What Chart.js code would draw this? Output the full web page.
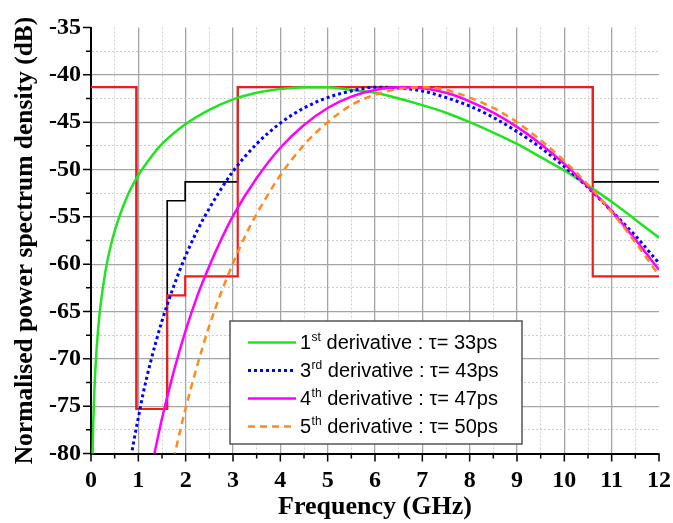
<!DOCTYPE html>
<html>
<head>
<meta charset="utf-8">
<script src="https://cdn.jsdelivr.net/npm/chart.js@4/dist/chart.umd.min.js"></script>
<style>
  html, body { margin: 0; padding: 0; background: #fff; }
  canvas { display: block; }
</style>
</head>
<body>
<canvas id="psd" width="673" height="523"></canvas>
<script>
// PSD of Gaussian derivative pulses (dB) against frequency (GHz)
const freq1st = [0.03, 0.04, 0.05, 0.07, 0.1, 0.15, 0.2, 0.3, 0.4, 0.5, 0.75, 1, 1.25, 1.5, 2, 2.5, 3, 3.5, 4, 4.5, 5, 5.5, 6, 6.5, 7, 7.5, 8, 8.5, 9, 9.5, 10, 10.5, 11, 11.5, 12];
const psd1st = [-80.8, -78.3, -76.4, -73.5, -70.4, -66.9, -64.4, -60.9, -58.4, -56.5, -53.0, -50.6, -48.8, -47.3, -45.2, -43.7, -42.6, -41.9, -41.5, -41.3, -41.3, -41.6, -41.9, -42.5, -43.2, -44.0, -45.0, -46.1, -47.3, -48.7, -50.1, -51.7, -53.4, -55.3, -57.2];

const freq3rd = [0.85, 0.9, 1, 1.1, 1.25, 1.5, 1.75, 2, 2.25, 2.5, 3, 3.5, 4, 4.5, 5, 5.5, 6, 6.5, 7, 7.5, 8, 8.5, 9, 9.5, 10, 10.5, 11, 11.5, 12];
const psd3rd = [-80.3, -78.8, -76.2, -73.7, -70.5, -66.0, -62.3, -59.1, -56.4, -54.1, -50.2, -47.3, -45.1, -43.5, -42.4, -41.7, -41.3, -41.4, -41.7, -42.4, -43.3, -44.5, -46.0, -47.7, -49.7, -51.9, -54.4, -57.0, -59.9];

const freq4th = [1.3, 1.35, 1.5, 1.75, 2, 2.25, 2.5, 2.75, 3, 3.5, 4, 4.5, 5, 5.5, 6, 6.5, 7, 7.5, 8, 8.5, 9, 9.5, 10, 10.5, 11, 11.5, 12];
const psd4th = [-81.1, -79.8, -76.3, -71.3, -67.0, -63.3, -60.2, -57.4, -54.9, -50.9, -47.7, -45.3, -43.5, -42.3, -41.6, -41.3, -41.4, -41.9, -42.8, -44.0, -45.5, -47.3, -49.4, -51.8, -54.4, -57.4, -60.6];

const freq5th = [1.75, 1.8, 2, 2.25, 2.5, 2.75, 3, 3.25, 3.5, 4, 4.5, 5, 5.5, 6, 6.5, 7, 7.5, 8, 8.5, 9, 9.5, 10, 10.5, 11, 11.5, 12];
const psd5th = [-80.6, -79.4, -75.2, -70.6, -66.5, -63.0, -59.9, -57.1, -54.7, -50.6, -47.4, -45.0, -43.2, -42.1, -41.5, -41.3, -41.6, -42.4, -43.5, -45.0, -46.9, -49.1, -51.6, -54.5, -57.7, -61.2];

// FCC emission masks, level holds until the next break frequency
const maskFreq = [0, 0.96, 1.61, 1.99, 3.1, 10.6, 12];
const indoorMask = [-41.3, -75.3, -63.3, -61.3, -41.3, -61.3, -61.3];
const outdoorMask = [-41.3, -75.3, -53.3, -51.3, -41.3, -51.3, -51.3];

// legend text pieces
const ordinals = ['1', '3', '4', '5'];
const ordinalSuffix = ['st', 'rd', 'th', 'th'];
const tauPs = [33, 43, 47, 50];

const toPoints = (xs, ys) => xs.map((x, i) => ({ x: x, y: ys[i] }));

const serif = 'Liberation Serif';

const tickMarks = {
  id: 'tickMarks',
  afterDraw(chart) {
    const { ctx, chartArea: a, scales: { x, y } } = chart;
    ctx.save();
    ctx.strokeStyle = '#000';
    ctx.lineWidth = 1.5;
    ctx.beginPath();
    x.ticks.forEach(t => {
      const px = x.getPixelForValue(t.value);
      const len = Number.isInteger(t.value) ? 8 : 5;
      ctx.moveTo(px, a.bottom);
      ctx.lineTo(px, a.bottom + len);
    });
    y.ticks.forEach(t => {
      const py = y.getPixelForValue(t.value);
      const len = t.value % 5 === 0 ? 8 : 5;
      ctx.moveTo(a.left, py);
      ctx.lineTo(a.left - len, py);
    });
    ctx.stroke();
    ctx.restore();
  }
};

const seriesLegend = {
  id: 'seriesLegend',
  afterDatasetsDraw(chart) {
    const ctx = chart.ctx;
    const box = { x: 230, y: 321, w: 292, h: 123 };
    ctx.save();
    ctx.fillStyle = '#fff';
    ctx.fillRect(box.x, box.y, box.w, box.h);
    ctx.strokeStyle = '#555';
    ctx.lineWidth = 1.5;
    ctx.strokeRect(box.x, box.y, box.w, box.h);

    for (let i = 0; i < 4; i++) {
      const ds = chart.data.datasets[i];
      const rowY = 342.5 + i * 28;
      ctx.beginPath();
      ctx.setLineDash(ds.borderDash || []);
      ctx.strokeStyle = ds.borderColor;
      ctx.lineWidth = ds.borderWidth;
      ctx.moveTo(248, rowY);
      ctx.lineTo(296, rowY);
      ctx.stroke();
      ctx.setLineDash([]);

      ctx.fillStyle = '#000';
      ctx.textBaseline = 'alphabetic';
      let tx = 300;
      ctx.font = '20px "Liberation Sans"';
      ctx.fillText(ordinals[i], tx, rowY + 6.8);
      tx += ctx.measureText(ordinals[i]).width + 0.5;
      ctx.font = '12px "Liberation Sans"';
      ctx.fillText(ordinalSuffix[i], tx, rowY - 2);
      tx += ctx.measureText(ordinalSuffix[i]).width;
      ctx.font = '20px "Liberation Sans"';
      ctx.fillText(' derivative : \u03c4= ' + tauPs[i] + 'ps', tx, rowY + 6.8);
    }
    ctx.restore();
  }
};

const minorX = v => !Number.isInteger(v);
const minorY = v => v % 5 !== 0;

new Chart(document.getElementById('psd'), {
  type: 'line',
  data: {
    datasets: [
      {
        label: '1st derivative',
        data: toPoints(freq1st, psd1st),
        borderColor: '#1fe41f',
        borderWidth: 2.5,
        cubicInterpolationMode: 'monotone',
        order: 4
      },
      {
        label: '3rd derivative',
        data: toPoints(freq3rd, psd3rd),
        borderColor: '#0000ff',
        borderWidth: 3,
        borderDash: [3, 3],
        cubicInterpolationMode: 'monotone',
        order: 3
      },
      {
        label: '4th derivative',
        data: toPoints(freq4th, psd4th),
        borderColor: '#ff00ff',
        borderWidth: 2.5,
        cubicInterpolationMode: 'monotone',
        order: 2
      },
      {
        label: '5th derivative',
        data: toPoints(freq5th, psd5th),
        borderColor: '#ff8a1e',
        borderWidth: 2.5,
        borderDash: [7, 5],
        cubicInterpolationMode: 'monotone',
        order: 1
      },
      {
        label: 'indoor mask',
        data: toPoints(maskFreq, indoorMask),
        borderColor: '#f01c1c',
        borderWidth: 2.2,
        stepped: true,
        order: 5
      },
      {
        label: 'outdoor mask',
        data: toPoints(maskFreq, outdoorMask),
        borderColor: '#000',
        borderWidth: 1.7,
        stepped: true,
        order: 6
      }
    ]
  },
  options: {
    responsive: false,
    animation: false,
    elements: { point: { radius: 0 } },
    layout: { padding: { top: 27.5, right: 14, left: 0, bottom: 0 } },
    plugins: {
      legend: { display: false },
      tooltip: { enabled: false }
    },
    scales: {
      x: {
        type: 'linear',
        min: 0,
        max: 12,
        afterFit: s => {
          s.height = 69.5;
          s.paddingLeft = 0;
          s.paddingRight = 0;
        },
        ticks: {
          stepSize: 0.5,
          autoSkip: false,
          maxRotation: 0,
          padding: 13,
          color: '#000',
          font: { family: serif, size: 24, weight: 'bold' },
          callback: v => (Number.isInteger(v) ? v : '')
        },
        grid: {
          drawTicks: false,
          color: c => {
            const v = c.tick ? c.tick.value : 0;
            if (v <= 0 || v >= 12) return 'rgba(0,0,0,0)';
            return minorX(v) ? '#cdcdcd' : '#a4a4a4';
          },
          lineWidth: c => (c.tick && minorX(c.tick.value) ? 1 : 1.3)
        },
        border: {
          color: '#000',
          width: 2,
          dash: c => (c.type === 'tick' && c.tick && minorX(c.tick.value) ? [2, 2] : [])
        },
        title: {
          display: true,
          text: 'Frequency (GHz)',
          color: '#000',
          font: { family: serif, size: 26, weight: 'bold' },
          padding: { top: 13, bottom: 0 }
        }
      },
      y: {
        type: 'linear',
        min: -80,
        max: -35,
        afterFit: s => { s.width = 91; },
        ticks: {
          stepSize: 2.5,
          autoSkip: false,
          padding: 10,
          color: '#000',
          font: { family: serif, size: 24, weight: 'bold' },
          callback: v => (v % 5 === 0 ? v : '')
        },
        grid: {
          drawTicks: false,
          color: c => {
            const v = c.tick ? c.tick.value : -80;
            if (v <= -80 || v >= -35) return 'rgba(0,0,0,0)';
            return minorY(v) ? '#cdcdcd' : '#a4a4a4';
          },
          lineWidth: c => (c.tick && minorY(c.tick.value) ? 1 : 1.3)
        },
        border: {
          color: '#000',
          width: 2,
          dash: c => (c.type === 'tick' && c.tick && minorY(c.tick.value) ? [2, 2] : [])
        },
        title: {
          display: true,
          text: 'Normalised power spectrum density (dB)',
          color: '#000',
          font: { family: serif, size: 25.5, weight: 'bold' },
          padding: { top: 10, bottom: 0 }
        }
      }
    }
  },
  plugins: [tickMarks, seriesLegend]
});
</script>
</body>
</html>
